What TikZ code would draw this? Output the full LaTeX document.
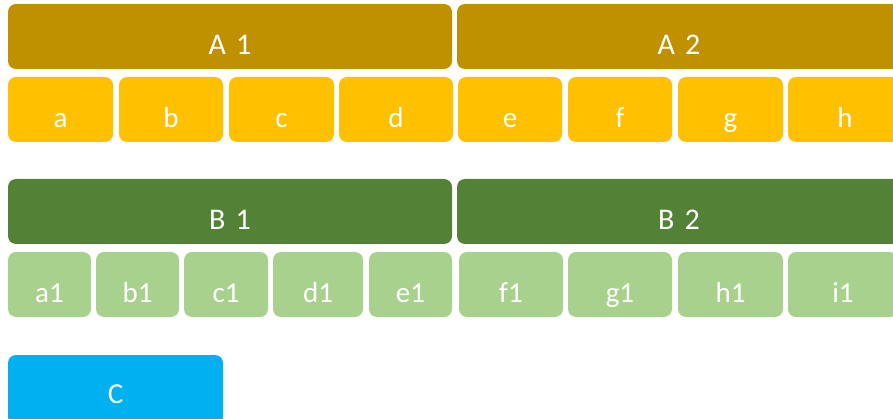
\documentclass[tikz,border=0pt]{standalone}
\usepackage{fontspec}
\setmainfont{Carlito}
\definecolor{goldDark}{HTML}{BF9000}
\definecolor{goldLight}{HTML}{FFC000}
\definecolor{greenDark}{HTML}{538135}
\definecolor{greenLight}{HTML}{A9D18E}
\definecolor{skyBlue}{HTML}{00B0F0}
\tikzset{
  cell/.style={rounded corners=8pt,minimum height=65pt,inner sep=0pt,text=white,
    text height=36pt,text depth=0pt},
  head/.style={cell,font=\fontsize{30}{32}\selectfont,minimum width=444pt},
  item/.style={cell,font=\fontsize{29}{31}\selectfont},
}
\begin{document}
\begin{tikzpicture}[x=1pt,y=-1pt]
  \useasboundingbox (0,0) rectangle (893,419);
  \clip (0,0) rectangle (893,419);
  % A row
  \node[head,fill=goldDark] (hA1) at (230,36.5) {A\,\,1};
  \node[head,fill=goldDark] (hA2) at (679,36.5) {A\,\,2};
  \node[item,fill=goldLight,minimum width=105pt] (ia) at (60.5,109.5) {a};
  \node[item,fill=goldLight,minimum width=104pt] (ib) at (171,109.5) {b};
  \node[item,fill=goldLight,minimum width=105pt] (ic) at (281.5,109.5) {c};
  \node[item,fill=goldLight,minimum width=114pt] (id) at (396,109.5) {d};
  \node[item,fill=goldLight,minimum width=104pt] (ie) at (510,109.5) {e};
  \node[item,fill=goldLight,minimum width=104pt] (if) at (620,109.5) {f};
  \node[item,fill=goldLight,minimum width=105pt] (ig) at (730.5,109.5) {g};
  \node[item,fill=goldLight,minimum width=114pt] (ih) at (845,109.5) {h};
  % B row
  \node[head,fill=greenDark] (hB1) at (230,211.5) {B\,\,1};
  \node[head,fill=greenDark] (hB2) at (679,211.5) {B\,\,2};
  \node[item,fill=greenLight,minimum width=83pt] (ja) at (49.5,284.5) {a1};
  \node[item,fill=greenLight,minimum width=83pt] (jb) at (137.5,284.5) {b1};
  \node[item,fill=greenLight,minimum width=84pt] (jc) at (226,284.5) {c1};
  \node[item,fill=greenLight,minimum width=90pt] (jd) at (318,284.5) {d1};
  \node[item,fill=greenLight,minimum width=83pt] (je) at (410.5,284.5) {e1};
  \node[item,fill=greenLight,minimum width=104pt] (jf) at (511,284.5) {f1};
  \node[item,fill=greenLight,minimum width=104pt] (jg) at (620,284.5) {g1};
  \node[item,fill=greenLight,minimum width=105pt] (jh) at (730.5,284.5) {h1};
  \node[item,fill=greenLight,minimum width=110pt] (ji) at (843,284.5) {i1};
  % C
  \node[item,fill=skyBlue,minimum width=215pt,minimum height=70pt,text height=26pt] (kC) at (115.5,390) {C};
\end{tikzpicture}
\end{document}
